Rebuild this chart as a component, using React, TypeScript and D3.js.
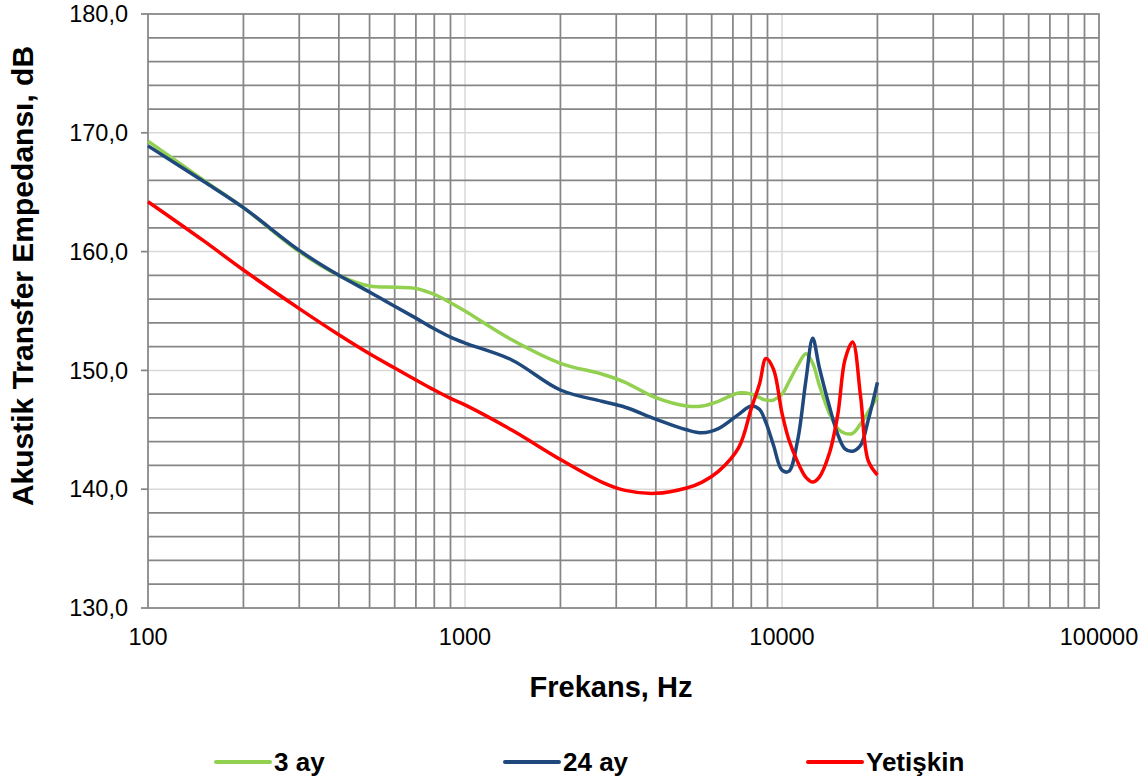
import React from "react";
import * as d3 from "d3";

// frequencies (Hz) shared by all three series
const freqs = [
  100, 150, 200, 300, 400, 500, 600, 700, 800, 900, 1000, 1400, 2000, 2700,
  3200, 4000, 5000, 5600, 6300, 7300, 8000, 8500, 8900, 9400, 10000, 10500,
  11200, 11900, 12500, 13100, 14100, 15000, 15800, 16700, 17700, 18700, 20000,
];

const ay3 = [
  169.3, 166.0, 163.7, 160.0, 158.0, 157.1, 157.0, 156.9, 156.4, 155.7, 155.0,
  152.6, 150.6, 149.7, 149.0, 147.7, 147.0, 147.0, 147.4, 148.1, 148.0, 147.7,
  147.5, 147.5, 148.0, 149.0, 150.4, 151.4, 150.6, 148.8, 146.4, 145.1, 144.7,
  144.7, 145.5, 146.5, 147.8,
];

const ay24 = [
  168.9, 165.9, 163.7, 160.1, 158.0, 156.6, 155.4, 154.4, 153.5, 152.8, 152.3,
  150.9, 148.35, 147.4, 146.9, 145.9, 145.0, 144.75, 145.1, 146.3, 147.0, 146.7,
  145.6, 143.7, 141.6, 141.5, 144.1, 149.2, 152.7, 150.3, 147.0, 144.6, 143.4,
  143.2, 143.7, 145.8, 149.0,
];

const yetiskin = [
  164.2, 160.9, 158.45, 155.2, 153.0, 151.4, 150.2, 149.2, 148.35, 147.65,
  147.1, 145.0, 142.5, 140.6, 139.9, 139.65, 140.1, 140.6, 141.5, 143.5, 146.8,
  148.9, 151.0, 150.1, 146.4, 144.2, 142.3, 141.0, 140.6, 141.0, 143.0, 146.3,
  150.9, 152.4, 147.8, 142.4, 141.2,
];

const seriesNames = ["3 ay", "24 ay", "Yetişkin"];
const seriesColors = ["#92d050", "#1f497d", "#ff0000"];
const xTickLabels = ["100", "1000", "10000", "100000"];
const yTickLabels = ["130,0", "140,0", "150,0", "160,0", "170,0", "180,0"];

const width = 1148;
const height = 780;
const left = 148;
const right = 1099;
const top = 14;
const bottom = 608;

export default function App() {
  const x = d3.scaleLog().domain([100, 100000]).range([left, right]);
  const y = d3.scaleLinear().domain([130, 180]).range([bottom, top]);

  const majorY = [140, 150, 160, 170];
  const minorY = d3.range(132, 180, 2).filter((v) => v % 10 !== 0);
  const majorX = [1000, 10000];
  const minorX: number[] = [];
  [100, 1000, 10000].forEach((d) => {
    for (let k = 2; k <= 9; k++) minorX.push(d * k);
  });

  const line = d3
    .line<[number, number]>()
    .x((d) => x(d[0]))
    .y((d) => y(d[1]))
    .curve(d3.curveCatmullRom.alpha(0.5));

  const allSeries = [ay3, ay24, yetiskin];
  const font = "'Liberation Sans', Arial, sans-serif";
  const legendX = [216, 505, 808];

  return (
    <svg
      width={width}
      height={height}
      style={{ position: "absolute", left: 0, top: 0 }}
      fontFamily={font}
    >
      <rect width={width} height={height} fill="#fff" />
      {majorY.map((v) => (
        <line key={"my" + v} x1={left} x2={right} y1={y(v)} y2={y(v)} stroke="#d9d9d9" strokeWidth={1.5} />
      ))}
      {majorX.map((v) => (
        <line key={"mx" + v} x1={x(v)} x2={x(v)} y1={top} y2={bottom} stroke="#d9d9d9" strokeWidth={1.5} />
      ))}
      {minorY.map((v) => (
        <line key={"ny" + v} x1={left} x2={right} y1={y(v)} y2={y(v)} stroke="#868686" strokeWidth={1.75} />
      ))}
      {minorX.map((v) => (
        <line key={"nx" + v} x1={x(v)} x2={x(v)} y1={top} y2={bottom} stroke="#868686" strokeWidth={1.75} />
      ))}
      <rect x={left} y={top} width={right - left} height={bottom - top} fill="none" stroke="#868686" strokeWidth={1.75} />
      {yTickLabels.map((t, i) => {
        const v = 130 + i * 10;
        return (
          <g key={t}>
            <line x1={left - 7} x2={left} y1={y(v)} y2={y(v)} stroke="#868686" strokeWidth={1.75} />
            <text x={128} y={y(v)} dy="0.35em" textAnchor="end" fontSize={23.5} fill="#000">
              {t}
            </text>
          </g>
        );
      })}
      {xTickLabels.map((t) => (
        <text key={t} x={x(+t)} y={645} textAnchor="middle" fontSize={23.5} fill="#000">
          {t}
        </text>
      ))}
      {allSeries.map((vals, i) => (
        <path
          key={seriesNames[i]}
          d={line(freqs.map((f, j) => [f, vals[j]] as [number, number])) || ""}
          fill="none"
          stroke={seriesColors[i]}
          strokeWidth={3.5}
          strokeLinejoin="round"
        />
      ))}
      <text x={611} y={697} textAnchor="middle" fontSize={29} fontWeight="bold" fill="#000">
        Frekans, Hz
      </text>
      <text
        transform="translate(33,276) rotate(-90)"
        textAnchor="middle"
        fontSize={30}
        fontWeight="bold"
        fill="#000"
      >
        Akustik Transfer Empedansı, dB
      </text>
      {seriesNames.map((n, i) => (
        <g key={n}>
          <line x1={legendX[i]} x2={legendX[i] + 54} y1={762} y2={762} stroke={seriesColors[i]} strokeWidth={4} strokeLinecap="round" />
          <text x={legendX[i] + 58} y={771} fontSize={26} fontWeight="bold" fill="#000">
            {n}
          </text>
        </g>
      ))}
    </svg>
  );
}
